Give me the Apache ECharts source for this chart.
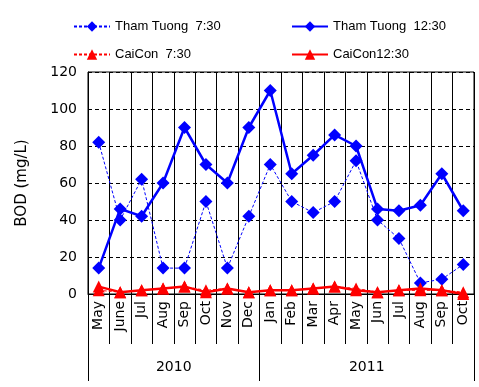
<!DOCTYPE html>
<html><head><meta charset="utf-8">
<script src="https://cdn.jsdelivr.net/npm/echarts@6/dist/echarts.min.js"></script>
<style>html,body{margin:0;padding:0;background:#fff}#c{width:479px;height:387px}</style>
</head><body><div id="c"></div>
<script>
const months = ['May','June','Jul','Aug','Sep','Oct','Nov','Dec','Jan','Feb','Mar','Apr','May','Jun','Jul','Aug','Sep','Oct'];
const years = ['2010','2011'];
const yearBounds = [0, 8, 18];
const yearCenters = [4, 13];
const thamTuong730 = [82,40,62,14,14,50,14,42,70,50,44,50,72,40,30,6,8,16];
const thamTuong1230 = [14,46,42,60,90,70,60,90,110,65,75,86,80,46,45,48,65,45];
const caiCon730 = [2,1,2,3,4,2,3,1,2,2,3,4,3,1,2,2,2,1];
const caiCon1230 = [4,1,2,3,4,1,3,1,2,2,3,4,2,1,2,3,2,0];
const yTicks = [0,20,40,60,80,100,120];

const font = 'DejaVu Sans';
const chart = echarts.init(document.getElementById('c'));
chart.setOption({
  animation: false,
  backgroundColor: '#fff',
  textStyle: {fontFamily: font},
  legend: [
    {left: 68, top: 15, orient: 'vertical', itemGap: 15, itemWidth: 36, itemHeight: 13,
     textStyle: {fontSize: 13, color: '#000', fontFamily: 'Liberation Sans'},
     data: ['Tham Tuong  7:30', 'CaiCon  7:30']},
    {left: 286, top: 15, orient: 'vertical', itemGap: 15, itemWidth: 36, itemHeight: 13,
     textStyle: {fontSize: 13, color: '#000', fontFamily: 'Liberation Sans'},
     data: ['Tham Tuong  12:30', 'CaiCon12:30']}
  ],
  grid: {left: 88, right: 5, top: 72, bottom: 93, show: true, borderColor: '#000', borderWidth: 1},
  xAxis: [
    {type: 'category', data: months, boundaryGap: true, position: 'bottom',
     axisLine: {show: true, lineStyle: {color: '#000', width: 1}},
     axisTick: {show: true, interval: 0, length: 50, lineStyle: {color: '#000'}},
     splitLine: {show: true, interval: 0, lineStyle: {color: '#000', width: 1}},
     axisLabel: {interval: 0, rotate: 90, fontSize: 14, color: '#000', margin: 7, fontFamily: font}},
    {type: 'value', min: 0, max: 18, position: 'bottom',
     axisLine: {show: false},
     splitLine: {show: false},
     axisTick: {show: true, customValues: yearBounds, length: 87, lineStyle: {color: '#000'}},
     axisLabel: {show: true, customValues: yearCenters, margin: 66, fontSize: 14, color: '#000', fontFamily: font,
       formatter: function (v) { return years[yearCenters.indexOf(v)]; }}}
  ],
  yAxis: {type: 'value', min: 0, max: 120, interval: 20,
    name: 'BOD (mg/L)', nameLocation: 'middle', nameGap: 58, nameRotate: 90,
    nameTextStyle: {fontSize: 15, color: '#000', fontFamily: font},
    axisLine: {show: true, lineStyle: {color: '#000'}},
    axisTick: {show: false},
    axisLabel: {fontSize: 14, color: '#000', margin: 11, fontFamily: font,
      formatter: function (v) { return yTicks.indexOf(v) >= 0 ? String(v) : ''; }},
    splitLine: {show: true, lineStyle: {color: '#000', type: [4, 3], width: 1}}},
  series: [
    {name: 'Tham Tuong  7:30', type: 'line', data: thamTuong730, symbol: 'diamond', symbolSize: 13,
     itemStyle: {color: '#0000ff'}, lineStyle: {color: '#0000ff', width: 1, type: [3, 2]}, z: 3},
    {name: 'Tham Tuong  12:30', type: 'line', data: thamTuong1230, symbol: 'diamond', symbolSize: 13,
     itemStyle: {color: '#0000ff'}, lineStyle: {color: '#0000ff', width: 2.5}, z: 4},
    {name: 'CaiCon  7:30', type: 'line', data: caiCon730, symbol: 'triangle', symbolSize: 12,
     itemStyle: {color: '#ff0000'}, lineStyle: {color: '#ff0000', width: 1, type: [3, 2]}, z: 5},
    {name: 'CaiCon12:30', type: 'line', data: caiCon1230, symbol: 'triangle', symbolSize: 12,
     itemStyle: {color: '#ff0000'}, lineStyle: {color: '#ff0000', width: 2.5}, z: 6}
  ]
});
</script></body></html>
